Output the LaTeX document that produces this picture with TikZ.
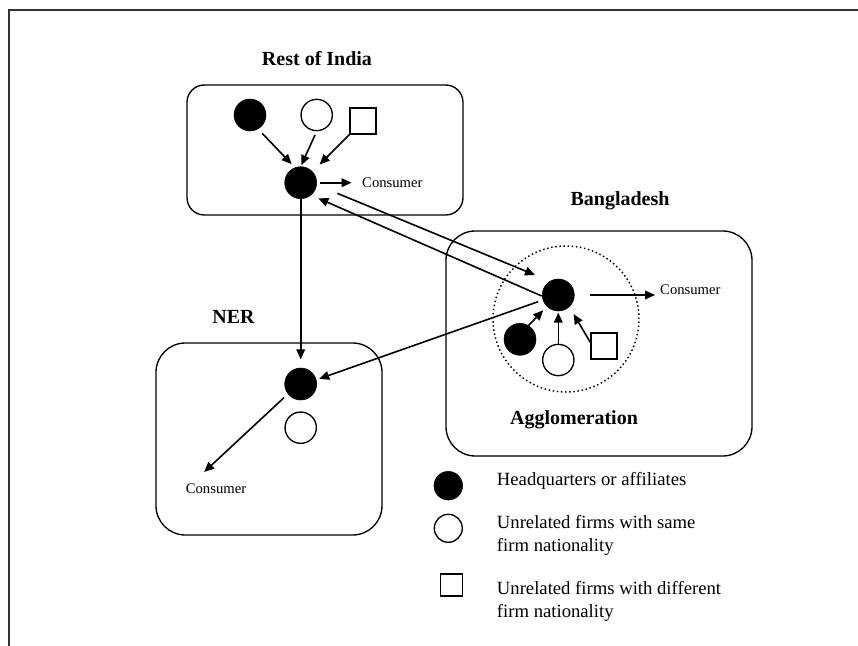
\documentclass[tikz,border=0pt]{standalone}
\usepackage{fontspec}
\setmainfont{Liberation Serif}
\usetikzlibrary{arrows.meta}

\begin{document}
\begin{tikzpicture}[x=0.75pt, y=-0.75pt,
    hqfirm/.style={circle, fill=black, draw=black, minimum size=24pt, inner sep=0pt},
    samefirm/.style={circle, draw=black, line width=1pt, minimum size=23.5pt, inner sep=0pt},
    difffirm/.style={rectangle, draw=black, line width=1pt, minimum size=19.5pt, inner sep=0pt},
    arr/.style={-{Triangle[length=7.5pt,width=6.5pt]}, line width=1.2pt},
    region/.style={line width=1pt},
    title/.style={font=\fontsize{15}{18}\selectfont\bfseries},
    cons/.style={font=\fontsize{11}{13}\selectfont, inner sep=2pt},
    legtext/.style={font=\fontsize{14}{17.5}\selectfont, anchor=west, align=left, inner sep=0pt}]
          \useasboundingbox (0,0) rectangle (858,646);
          \draw[line width=1.3pt, black!80] (9,646) -- (9,10) -- (858,10);

          % Rest of India
          \node[title] (RT) at (317,59) {Rest of India};
          \draw[region, rounded corners=13pt] (187,85) rectangle (463,215);
          \node[hqfirm] (R1) at (250,115) {};
          \node[samefirm] (R2) at (316.7,115) {};
          \node[difffirm] (R3) at (363,121) {};
          \node[hqfirm] (R4) at (300.7,182.7) {};
          \node[cons, anchor=west] (RC) at (359.3,182.7) {Consumer};

          \draw[arr, shorten <=4.5pt, shorten >=3.5pt] (R1.-60) -- (R4.111);
          \draw[arr, shorten <=3pt, shorten >=1pt] (R2.south) -- (R4.north);
          \draw[arr, shorten >=7.5pt] (R3.south west) -- (R4.43);
          \draw[arr, shorten <=2.5pt, shorten >=5.8pt] (R4.east) -- (R4.east -| RC.west);

          % Bangladesh
          \node[title] (BT) at (620,201) {Bangladesh};
          \draw[region, rounded corners=22pt] (446,231) rectangle (752,456);
          \node[draw, dotted, circle, line width=1.1pt, minimum size=109.5pt, inner sep=0pt] (AG) at (566,319) {};
          \node[title] (AT) at (574,420) {Agglomeration};
          \node[hqfirm] (B4) at (558.3,295) {};
          \node[hqfirm] (B1) at (520,339.3) {};
          \node[samefirm] (B2) at (558.3,360) {};
          \node[difffirm] (B3) at (604,346) {};
          \node[cons, anchor=west] (BC) at (657.3,290) {Consumer};

          \draw[arr, shorten >=3.9pt] (B1.58) -- (B4.225);
          \draw[arr, shorten >=1pt] (B2.north) -- (B4.south);
          \draw[arr, shorten >=6.2pt] (B3.165) -- (B4.-47);
          \draw[arr, shorten <=11.8pt, shorten >=1.7pt] (B4.east) -- (B4.east -| BC.west);

          % NER
          \node[title] (NT) at (233.5,317) {NER};
          \draw[region, rounded corners=22pt] (156,343) rectangle (382,535);
          \node[hqfirm] (N1) at (300.7,384) {};
          \node[samefirm] (N2) at (300.7,427.7) {};
          \node[cons] (NC) at (216,489) {Consumer};
          \draw[arr, shorten <=4pt, shorten >=10pt] (N1.218) -- (NC.160);

          % links between regions
          \draw[arr, shorten >=6.3pt] (R4.south) -- (N1.north);
          \draw[arr] ([shift={(36.6,10.6)}]R4.center) -- ([shift={(-23.3,-20)}]B4.center);
          \draw[arr] ([shift={(-16.6,1)}]B4.center) -- ([shift={(17.6,15.6)}]R4.center);
          \draw[arr, shorten <=3.75pt, shorten >=2.2pt] (B4.198) -- (N1.15);

          % legend
          \node[hqfirm, minimum size=21.5pt] (L1) at (448.3,485.7) {};
          \node[samefirm, minimum size=21pt] (L2) at (448.3,528.3) {};
          \node[difffirm, minimum size=16.5pt] (L3) at (451.5,585) {};
          \node[legtext] (LT1) at (496.7,480.6) {Headquarters or affiliates};
          \node[legtext] (LT2) at (496.7,535.3) {Unrelated firms with same\\firm nationality};
          \node[legtext] (LT3) at (496.7,601.3) {Unrelated firms with different\\firm nationality};
        \end{tikzpicture}
\end{document}
